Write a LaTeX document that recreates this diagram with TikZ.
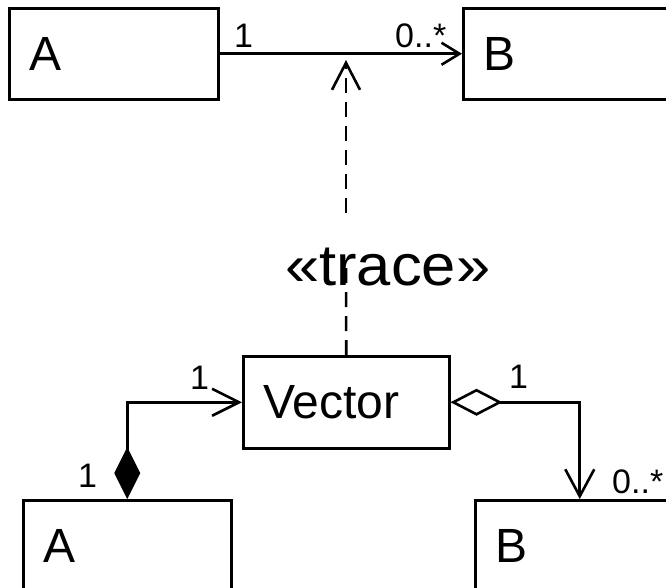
\documentclass[tikz,border=0pt]{standalone}
\usepackage{fontspec}
\setmainfont{Liberation Sans}
\usetikzlibrary{arrows.meta}
\begin{document}
\begin{tikzpicture}[x=1pt,y=-1pt,
  box/.style={draw, line width=2.5pt, rectangle, anchor=north west, inner xsep=20pt, inner ysep=0pt,
              align=left, minimum height=91pt, font=\fontsize{48}{50}\selectfont},
  lbl/.style={anchor=base west, inner sep=0pt, font=\fontsize{34}{36}\selectfont},
  conn/.style={line width=2.6pt},
  assoc/.style={conn, -{Straight Barb[length=18pt,width=22pt]}},
  dep/.style={conn, dash pattern=on 15pt off 9pt},
  deptip/.style={dep, -{Straight Barb[length=27pt,width=28pt]}},
  comp/.style={conn, {Diamond[length=52pt,width=26pt]}-{Straight Barb[length=27pt,width=27pt]}},
  agg/.style={conn, {Diamond[open,length=52pt,width=27pt]}-{Straight Barb[length=27pt,width=29pt]}}
]
\useasboundingbox (0,0) rectangle (666,587);
\clip (0,0) rectangle (666,587);
\fill[white] (0,0) rectangle (666,587);

% boxes
\node[box, text width=169pt] (A1) at (8,7) {A};
\node[box, text width=169pt] (B1) at (462,7) {B};
\node[box, text width=166pt, minimum height=92pt] (V) at (242,355) {Vector};
\node[box, text width=168pt] (A2) at (22,499) {A};
\node[box, text width=169pt] (B2) at (474,499) {B};

% association A -> B
\draw[assoc] (A1.east) -- (B1.west);
\node[lbl] (m1) at (234,47) {1};
\node[lbl] (m2) at (395,47) {0..*};

% trace dependency
\coordinate (gb) at (346,263);
\coordinate (gt) at (346,213);
\coordinate (tp) at (346,60);
\draw[dep] (V.north) -- (gb);
\draw[deptip] (gt) -- (tp);
\node[anchor=base west, inner sep=0pt, font=\fontsize{58}{60}\selectfont] (tr) at (285,285) {\scalebox{1.06}[1]{«trace»}};

% composition
\draw[comp] (A2.north) |- (V.west);
\node[lbl] (m3) at (190,389) {1};
\node[lbl] (m4) at (78,487) {1};

% aggregation
\draw[agg] (V.east) -| (B2.north);
\node[lbl] (m5) at (509,388) {1};
\node[lbl] (m6) at (612,493) {0..*};
\end{tikzpicture}
\end{document}
